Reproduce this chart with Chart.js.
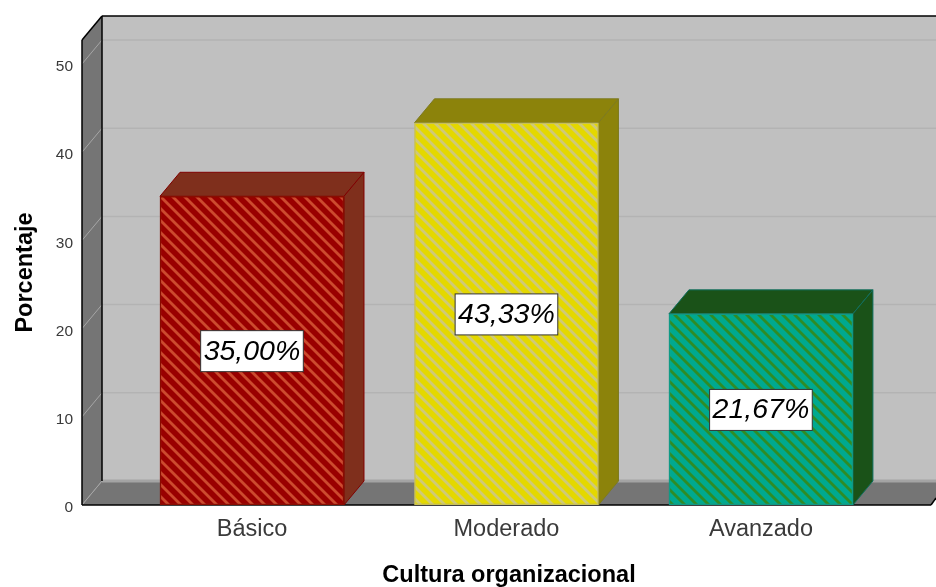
<!DOCTYPE html>
<html>
<head>
<meta charset="utf-8">
<title>Cultura organizacional</title>
<script src="https://cdn.jsdelivr.net/npm/chart.js@4"></script>
<style>
  html, body { margin: 0; padding: 0; background: #fff; overflow: hidden; }
  canvas { display: block; }
</style>
</head>
<body>
<canvas id="chart" width="936" height="587"></canvas>
<script>
const categories = ["Básico", "Moderado", "Avanzado"];
const percentages = [35.0, 43.33, 21.67];
const yTicks = [0, 10, 20, 30, 40, 50];

const frontColors = ["#990000", "#e4d800", "#00a98f"];
const stripeColors = ["#cc4a2e", "#cfc978", "#2f8c26"];
const sideColors = ["#7f2f1c", "#8c830b", "#1a5218"];
const edgeColors = ["#8a0c00", "#c8c05a", "#0f9a85"];
const sideEdges = ["#800000", "#7d7a20", "#0f6f60"];

// how far the box is pushed back, in pixels
const depthX = 20;
const depthY = 24;

const font = "'Liberation Sans', Arial, sans-serif";

function stripes(base, stripe) {
  const size = 12;
  const c = document.createElement("canvas");
  c.width = size;
  c.height = size;
  const g = c.getContext("2d");
  g.fillStyle = base;
  g.fillRect(0, 0, size, size);
  g.strokeStyle = stripe;
  g.lineWidth = 2.8;
  for (let i = -size; i <= size; i += size) {
    g.beginPath();
    g.moveTo(i - 2, -2);
    g.lineTo(i + size + 2, size + 2);
    g.stroke();
  }
  return g.createPattern(c, "repeat");
}

function poly(ctx, pts, fill, stroke) {
  ctx.beginPath();
  pts.forEach((p, i) => (i ? ctx.lineTo(p[0], p[1]) : ctx.moveTo(p[0], p[1])));
  ctx.closePath();
  if (fill) {
    ctx.fillStyle = fill;
    ctx.fill();
  }
  if (stroke) {
    ctx.strokeStyle = stroke;
    ctx.stroke();
  }
}

function line(ctx, x1, y1, x2, y2, color, width) {
  ctx.beginPath();
  ctx.moveTo(x1, y1);
  ctx.lineTo(x2, y2);
  ctx.strokeStyle = color;
  ctx.lineWidth = width;
  ctx.stroke();
}

const walls = {
  id: "walls",
  beforeDatasetsDraw(chart) {
    const ctx = chart.ctx;
    const { left, right, top, bottom } = chart.chartArea;
    const y = chart.scales.y;
    const backL = left + depthX;
    const floorEnd = right - 5;
    ctx.save();
    poly(ctx, [[backL, top - depthY], [right, top - depthY], [right, bottom - depthY], [backL, bottom - depthY]], "#c0c0c0");
    poly(ctx, [[left, top], [backL, top - depthY], [backL, bottom - depthY], [left, bottom]], "#757575");
    poly(ctx, [[left, bottom], [backL, bottom - depthY], [right, bottom - depthY], [right, bottom - 7], [floorEnd, bottom]], "#757575");

    yTicks.forEach((v) => {
      const py = y.getPixelForValue(v);
      line(ctx, backL, py - depthY, right, py - depthY, v === 0 ? "#a4a4a4" : "#b3b3b3", v === 0 ? 3 : 1.5);
      line(ctx, left, py, backL, py - depthY, "#a6a6a6", 1);
    });

    line(ctx, backL, top - depthY, right, top - depthY, "#000", 1.5);
    line(ctx, left, top, backL, top - depthY, "#000", 1.5);
    line(ctx, left, top, left, bottom, "#000", 1.5);
    line(ctx, backL, top - depthY, backL, bottom - depthY, "#000", 1.5);
    line(ctx, left, bottom, floorEnd, bottom, "#000", 1.5);
    line(ctx, floorEnd, bottom, right, bottom - 7, "#000", 1.5);

    // top and side of each box
    ctx.lineWidth = 1;
    chart.getDatasetMeta(0).data.forEach((bar, i) => {
      const l = bar.x - bar.width / 2;
      const r = bar.x + bar.width / 2;
      poly(ctx, [[l, bar.y], [l + depthX, bar.y - depthY], [r + depthX, bar.y - depthY], [r, bar.y]], sideColors[i], sideEdges[i]);
      poly(ctx, [[r, bar.y], [r + depthX, bar.y - depthY], [r + depthX, bar.base - depthY], [r, bar.base]], sideColors[i], sideEdges[i]);
    });
    ctx.restore();
  },
  afterDatasetsDraw(chart) {
    const ctx = chart.ctx;
    ctx.save();
    ctx.font = "italic 28.5px " + font;
    ctx.textAlign = "center";
    ctx.textBaseline = "middle";
    chart.getDatasetMeta(0).data.forEach((bar, i) => {
      const text = percentages[i].toFixed(2).replace(".", ",") + "%";
      const w = ctx.measureText(text).width + 6;
      const cy = (bar.y + bar.base) / 2;
      ctx.fillStyle = "#fff";
      ctx.fillRect(bar.x - w / 2, cy - 20, w, 41);
      ctx.strokeStyle = "#333";
      ctx.lineWidth = 1;
      ctx.strokeRect(bar.x - w / 2, cy - 20, w, 41);
      ctx.fillStyle = "#000";
      ctx.fillText(text, bar.x, cy + 1);
    });
    ctx.restore();
  },
};

new Chart(document.getElementById("chart"), {
  type: "bar",
  data: {
    datasets: [
      {
        data: categories.map((c, i) => ({ x: i, y: percentages[i] })),
        backgroundColor: frontColors.map((c, i) => stripes(c, stripeColors[i])),
        borderColor: edgeColors,
        borderWidth: 1.5,
        borderSkipped: false,
        barThickness: 184,
      },
    ],
  },
  options: {
    responsive: false,
    devicePixelRatio: 1,
    animation: false,
    layout: { padding: { top: 40, left: 0, right: 0, bottom: 0 } },
    plugins: { legend: { display: false }, tooltip: { enabled: false } },
    scales: {
      x: {
        type: "linear",
        offset: false,
        min: -0.668,
        max: 2.688,
        grid: { display: false },
        border: { display: false },
        afterBuildTicks: (scale) => {
          scale.ticks = categories.map((c, i) => ({ value: i }));
        },
        afterFit: (scale) => {
          scale.height = 82;
        },
        ticks: {
          autoSkip: false,
          maxRotation: 0,
          padding: 2,
          color: "#3a3a3a",
          font: { family: font, size: 23.5 },
          callback: (v) => categories[v],
        },
        title: {
          display: true,
          text: "Cultura organizacional",
          color: "#000",
          padding: { top: 0, bottom: -3 },
          font: { family: font, size: 23.5, weight: "bold" },
        },
      },
      y: {
        min: 0,
        max: 52.72,
        grid: { display: false },
        border: { display: false },
        afterBuildTicks: (scale) => {
          scale.ticks = yTicks.map((v) => ({ value: v }));
        },
        afterFit: (scale) => {
          scale.width = 82;
        },
        ticks: {
          includeBounds: false,
          padding: 1,
          labelOffset: 3,
          color: "#3a3a3a",
          font: { family: font, size: 15.5 },
        },
        title: {
          display: true,
          text: "Porcentaje",
          color: "#000",
          padding: { top: 11, bottom: 0 },
          font: { family: font, size: 23.5, weight: "bold" },
        },
      },
    },
  },
  plugins: [walls],
});
</script>
</body>
</html>
